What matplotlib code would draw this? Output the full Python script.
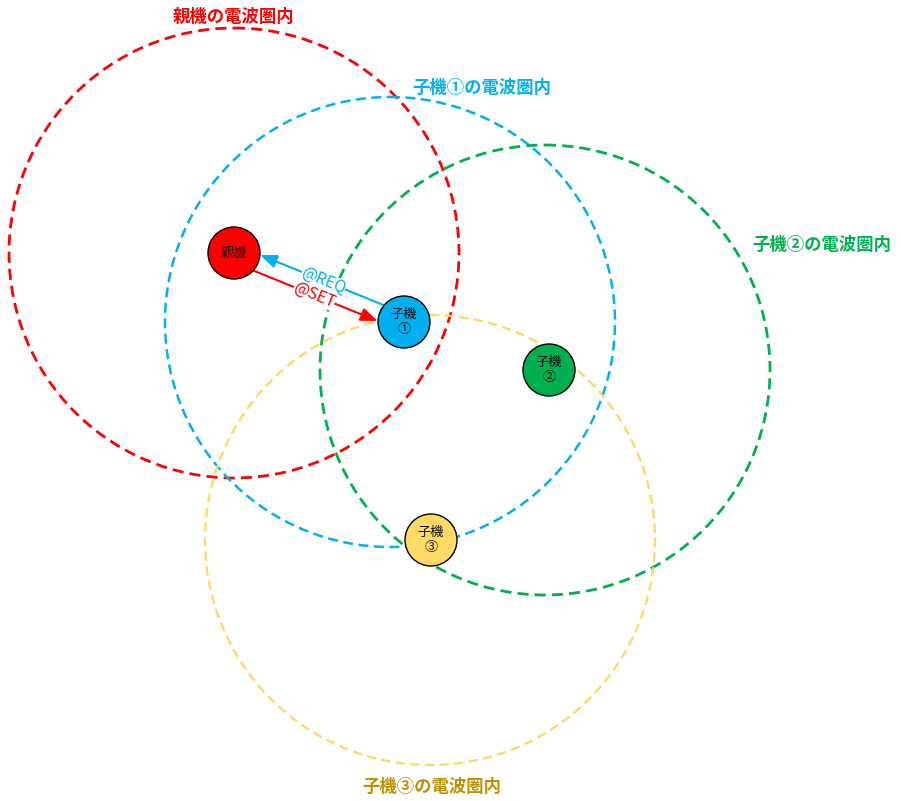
import math
import matplotlib
matplotlib.use("Agg")
import matplotlib.pyplot as plt
from matplotlib.patches import Circle, FancyArrowPatch

plt.rcParams['font.family'] = ['Noto Sans CJK JP', 'DejaVu Sans']

# ---- data ----
node_labels = ["親機", "子機\n①", "子機\n②", "子機\n③"]
node_x = [234, 404, 549, 431]
node_y = [253, 322, 370, 540]
node_colors = ["#FF0000", "#00B0F0", "#00B050", "#FFD966"]

range_labels = ["親機の電波圏内", "子機①の電波圏内", "子機②の電波圏内", "子機③の電波圏内"]
range_x = [234, 390, 545, 430]
range_y = [253, 322, 370, 540]
range_r = [225, 225, 225, 225]
range_colors = ["#FF0000", "#00B0F0", "#00B050", "#FFD966"]
range_label_colors = ["#FF0000", "#00B0F0", "#00B050", "#BF9000"]
range_label_x = [233, 482, 822, 432]
range_label_y = [17, 88, 245, 787]
range_lw = [2.0, 1.8, 2.0, 1.7]

msg_labels = ["@REQ", "@SET"]
msg_colors = ["#00B0F0", "#FF0000"]
msg_from = [1, 0]
msg_to = [0, 1]
msg_shift = [-8, 9]

node_r = 26

fig = plt.figure(figsize=(9.01, 8.01), dpi=100)
ax = fig.add_axes([0, 0, 1, 1])
ax.set_xlim(0, 901)
ax.set_ylim(801, 0)
ax.set_aspect('equal')
ax.axis('off')

# range circles
for x, y, r, c, lw in zip(range_x, range_y, range_r, range_colors, range_lw):
    ax.add_patch(Circle((x, y), r, fill=False, edgecolor=c, lw=lw,
                        linestyle=(0, (4.0, 2.2)), zorder=1))

for lab, x, y, c in zip(range_labels, range_label_x, range_label_y, range_label_colors):
    ax.text(x, y, lab, color=c, fontsize=12.5, fontweight='bold',
            ha='center', va='center', zorder=5)

# unit normal of the line 親機 -> 子機①
nx, ny = -(node_y[1] - node_y[0]), (node_x[1] - node_x[0])
nL = math.hypot(nx, ny)
nx, ny = nx / nL, ny / nL

for lab, c, a, b, shift in zip(msg_labels, msg_colors, msg_from, msg_to, msg_shift):
    x0, y0 = node_x[a], node_y[a]
    x1, y1 = node_x[b], node_y[b]
    dx, dy = x1 - x0, y1 - y0
    L = math.hypot(dx, dy)
    ux, uy = dx / L, dy / L
    ox, oy = nx * shift, ny * shift
    start = (x0 + ux * (node_r - 4) + ox, y0 + uy * (node_r - 4) + oy)
    end = (x1 - ux * (node_r - 1) + ox, y1 - uy * (node_r - 1) + oy)
    arr = FancyArrowPatch(start, end, arrowstyle='-|>,head_length=10,head_width=4',
                          color=c, lw=1.5, mutation_scale=1, zorder=3,
                          shrinkA=0, shrinkB=0)
    ax.add_patch(arr)
    mx, my = (start[0] + end[0]) / 2, (start[1] + end[1]) / 2
    ang = -math.degrees(math.atan2(node_y[1] - node_y[0], node_x[1] - node_x[0]))
    ax.text(mx, my, lab, color=c, fontsize=11.5, rotation=ang,
            rotation_mode='anchor', ha='center', va='center', zorder=4,
            bbox=dict(boxstyle='square,pad=0.0', fc='white', ec='none'))

# nodes
for lab, x, y, c in zip(node_labels, node_x, node_y, node_colors):
    ax.add_patch(Circle((x, y), node_r, facecolor=c, edgecolor='black', lw=1.0, zorder=6))
    ax.text(x, y, lab, fontsize=9.5, ha='center', va='center', color='#111111',
            linespacing=1.25, zorder=7)

fig.savefig("out.png", dpi=100)
